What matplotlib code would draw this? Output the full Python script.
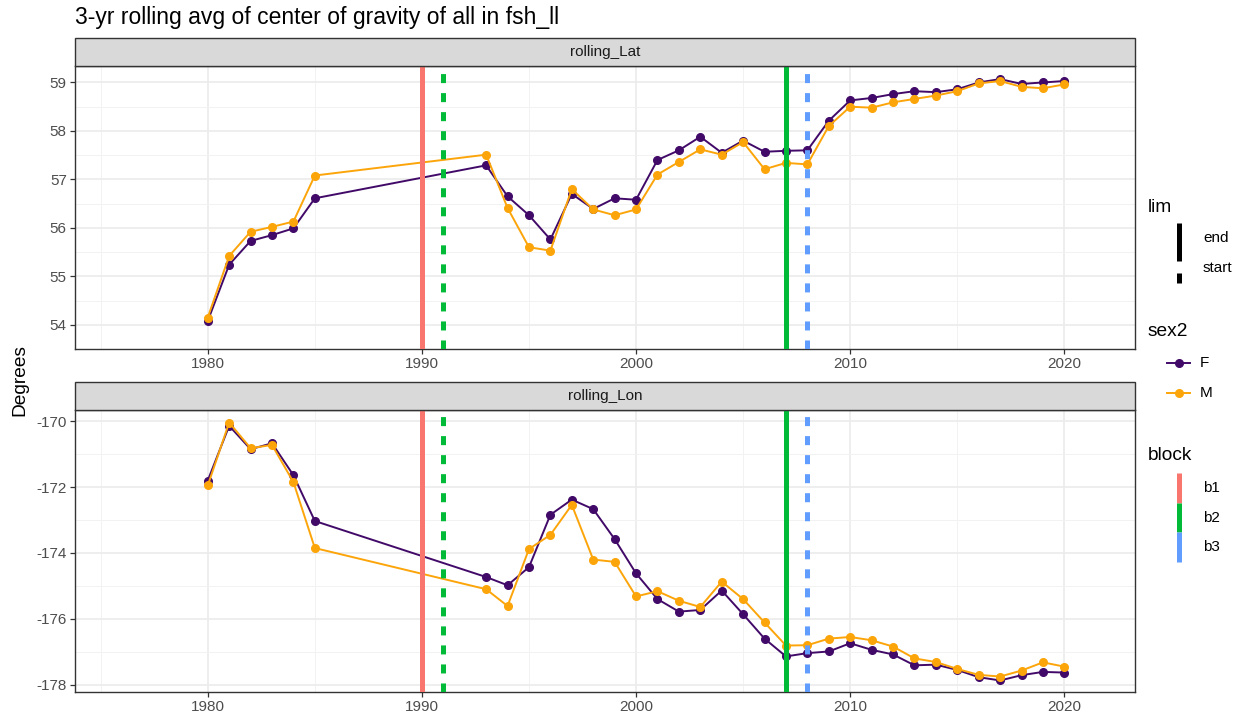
import matplotlib
matplotlib.use("Agg")
import matplotlib.pyplot as plt
from matplotlib.lines import Line2D
from matplotlib.patches import Rectangle

plt.rcParams["font.family"] = ["Liberation Sans", "DejaVu Sans"]
plt.rcParams["lines.scale_dashes"] = False
plt.rcParams["axes.unicode_minus"] = False

# years with a rolling value (gap 1986-1992)
years = [1980, 1981, 1982, 1983, 1984, 1985,
         1993, 1994, 1995, 1996, 1997, 1998, 1999, 2000,
         2001, 2002, 2003, 2004, 2005, 2006, 2007, 2008, 2009, 2010,
         2011, 2012, 2013, 2014, 2015, 2016, 2017, 2018, 2019, 2020]

lat_F = [54.08, 55.24, 55.73, 55.85, 55.99, 56.61,
         57.29, 56.65, 56.26, 55.76, 56.70, 56.39, 56.61, 56.58,
         57.40, 57.60, 57.88, 57.55, 57.80, 57.57, 57.59, 57.60, 58.21, 58.63,
         58.68, 58.76, 58.82, 58.80, 58.86, 59.00, 59.07, 58.97, 59.00, 59.03]
lat_M = [54.15, 55.42, 55.92, 56.02, 56.13, 57.08,
         57.51, 56.41, 55.60, 55.53, 56.80, 56.38, 56.26, 56.38,
         57.10, 57.36, 57.62, 57.51, 57.77, 57.21, 57.34, 57.31, 58.10, 58.50,
         58.48, 58.59, 58.66, 58.73, 58.82, 58.98, 59.03, 58.91, 58.88, 58.96]

lon_F = [-171.80, -170.14, -170.85, -170.67, -171.64, -173.03,
         -174.73, -174.98, -174.43, -172.84, -172.38, -172.67, -173.58, -174.62,
         -175.40, -175.78, -175.73, -175.14, -175.86, -176.60, -177.14, -177.04,
         -176.99, -176.74, -176.94, -177.08, -177.41, -177.39, -177.55, -177.77,
         -177.87, -177.71, -177.61, -177.63]
lon_M = [-171.95, -170.04, -170.82, -170.72, -171.85, -173.85,
         -175.10, -175.61, -173.88, -173.45, -172.54, -174.20, -174.27, -175.32,
         -175.16, -175.45, -175.64, -174.87, -175.40, -176.11, -176.81, -176.80,
         -176.60, -176.55, -176.65, -176.84, -177.20, -177.31, -177.52, -177.70,
         -177.75, -177.57, -177.32, -177.45]

# block limits: (block, lim, year)
blocks = ["b1", "b2", "b2", "b3"]
lims = ["end", "start", "end", "start"]
lim_years = [1990, 1991, 2007, 2008]

sex_colors = {"F": "#420A68", "M": "#FCA50A"}
block_colors = {"b1": "#F8766D", "b2": "#00BA38", "b3": "#619CFF"}

W, H = 1244, 721
fig = plt.figure(figsize=(W / 100, H / 100), dpi=100)


def fx(px):
    return px / W


def fy(py):
    return 1 - py / H


panels = [
    ("rolling_Lat", lat_F, lat_M, (53.85, 59.34), [54, 55, 56, 57, 58, 59],
     [53.5, 54.5, 55.5, 56.5, 57.5, 58.5], 66, 349),
    ("rolling_Lon", lon_F, lon_M, (-178.22, -169.66), [-178, -176, -174, -172, -170],
     [-177, -175, -173, -171], 410, 692),
]

for name, yF, yM, ylim, yt, ymin_t, top, bot in panels:
    ax = fig.add_axes([fx(75), fy(bot), fx(1135) - fx(75), fy(top) - fy(bot)])
    ax.set_xlim(1973.8, 2023.3)
    ax.set_ylim(*ylim)
    ax.set_xticks([1980, 1990, 2000, 2010, 2020])
    ax.set_xticks([1975, 1985, 1995, 2005, 2015], minor=True)
    ax.set_yticks(yt)
    ax.set_yticks(ymin_t, minor=True)
    ax.grid(True, which="major", color="#EBEBEB", linewidth=1.2)
    ax.grid(True, which="minor", color="#F2F2F2", linewidth=0.7)
    ax.set_axisbelow(True)
    ax.tick_params(which="major", length=3.4, width=0.9, color="#333333",
                   labelsize=11, labelcolor="#4D4D4D", pad=2.5)
    ax.tick_params(which="minor", length=0)
    for s in ax.spines.values():
        s.set_color("#333333")
        s.set_linewidth(1.0)

    ax.plot(years, yF, color=sex_colors["F"], lw=1.4, marker="o", ms=5.5, zorder=3)
    ax.plot(years, yM, color=sex_colors["M"], lw=1.4, marker="o", ms=5.5, zorder=3)

    for b, lim, yr in zip(blocks, lims, lim_years):
        ls = "-" if lim == "end" else (0, (6.5, 7.2))
        ax.axvline(yr, color=block_colors[b], lw=3.6, ls=ls, zorder=4,
                   solid_capstyle="butt", dash_capstyle="butt")

    # facet strip
    strip_h = 28 / (bot - top)
    ax.add_patch(Rectangle((0, 1), 1, strip_h, transform=ax.transAxes,
                           facecolor="#D9D9D9", edgecolor="#333333", lw=1.0,
                           clip_on=False, zorder=5))
    ax.text(0.5, 1 + strip_h / 2, name, transform=ax.transAxes, ha="center",
            va="center", fontsize=11, color="#1A1A1A", zorder=6)

fig.text(fx(75), fy(24), "3-yr rolling avg of center of gravity of all in fsh_ll",
         fontsize=16.5, color="black", ha="left", va="baseline")
fig.text(fx(20), fy(380), "Degrees", rotation=90, fontsize=13.75,
         ha="center", va="center")

# legends
fig.text(fx(1148), fy(207), "lim", fontsize=13.75, ha="left", va="center")
fig.add_artist(Line2D([fx(1179), fx(1179)], [fy(223), fy(261)], color="black",
                      lw=3.6, solid_capstyle="butt", transform=fig.transFigure))
fig.add_artist(Line2D([fx(1179), fx(1179)], [fy(273), fy(283)], color="black",
                      lw=3.6, solid_capstyle="butt", transform=fig.transFigure))
fig.text(fx(1203), fy(238), "end", fontsize=11, ha="left", va="center")
fig.text(fx(1203), fy(268), "start", fontsize=11, ha="left", va="center")

fig.text(fx(1148), fy(332), "sex2", fontsize=13.75, ha="left", va="center")
for i, s in enumerate(["F", "M"]):
    y = 363 + 30 * i
    fig.add_artist(Line2D([fx(1167), fx(1190)], [fy(y), fy(y)], color=sex_colors[s],
                          lw=1.4, transform=fig.transFigure))
    fig.add_artist(Line2D([fx(1178.5)], [fy(y)], color=sex_colors[s], marker="o",
                          ms=5.5, lw=0, transform=fig.transFigure))
    fig.text(fx(1200), fy(y), s, fontsize=11, ha="left", va="center")

fig.text(fx(1148), fy(455), "block", fontsize=13.75, ha="left", va="center")
for i, b in enumerate(["b1", "b2", "b3"]):
    y0 = 473 + 29.7 * i
    fig.add_artist(Line2D([fx(1179), fx(1179)], [fy(y0), fy(y0 + 29.7)],
                          color=block_colors[b], lw=3.6, solid_capstyle="butt",
                          transform=fig.transFigure))
    fig.text(fx(1203), fy(y0 + 15), b, fontsize=11, ha="left", va="center")

fig.savefig("out.png", dpi=100, facecolor="white")
